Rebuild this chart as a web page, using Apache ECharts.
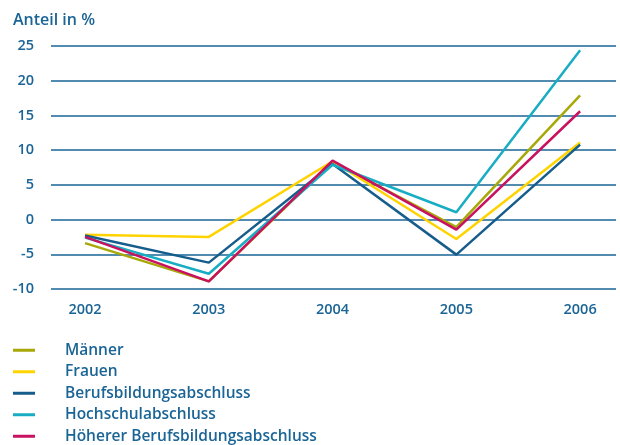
<!DOCTYPE html>
<html>
<head>
<meta charset="utf-8">
<script src="https://cdn.jsdelivr.net/npm/echarts@6/dist/echarts.min.js"></script>
<style>
  html, body { margin: 0; padding: 0; background: #fff; }
  #chart { width: 620px; height: 445px; }
</style>
</head>
<body>
<div id="chart"></div>
<script>
// Daten
const years = [2002, 2003, 2004, 2005, 2006]
const maenner = [-3.4, -8.9, 8.3, -1.1, 17.9]
const frauen = [-2.2, -2.5, 8.4, -2.8, 11.1]
const berufsbildung = [-2.3, -6.2, 8.0, -5.05, 10.8]
const hochschule = [-2.6, -7.8, 7.9, 1.05, 24.4]
const hoehererBeruf = [-2.5, -8.9, 8.5, -1.45, 15.6]

const textColor = '#1a6496'
const fontFamily = '"Open Sans", "Noto Sans", sans-serif'

const seriesDefs = [
  { name: 'Männer', data: maenner, color: '#a9a80a' },
  { name: 'Frauen', data: frauen, color: '#ffd300' },
  { name: 'Berufsbildungsabschluss', data: berufsbildung, color: '#165d8c' },
  { name: 'Hochschulabschluss', data: hochschule, color: '#19adc4' },
  { name: 'Höherer Berufsbildungsabschluss', data: hoehererBeruf, color: '#c8115f' }
]

const chart = echarts.init(document.getElementById('chart'))

const option = {
  animation: false,
  title: {
    text: 'Anteil in %',
    left: 13,
    top: 12,
    padding: 0,
    textStyle: { color: textColor, fontSize: 16, fontWeight: 600, fontFamily: fontFamily }
  },
  legend: {
    orient: 'vertical',
    left: 13,
    top: 342,
    padding: 0,
    height: 110,
    icon: 'rect',
    itemWidth: 22,
    itemHeight: 3,
    itemGap: 5,
    textStyle: {
      color: textColor, fontSize: 15.5, fontWeight: 600, fontFamily: fontFamily,
      lineHeight: 16.5, padding: [0, 0, 0, 25]
    },
    data: seriesDefs.map(s => s.name)
  },
  grid: { left: 51, right: 4, top: 46, bottom: 156 },
  xAxis: {
    type: 'value',
    min: 2001.725,
    max: 2006.29,
    axisLine: { show: false },
    axisTick: { show: false },
    splitLine: { show: false },
    axisLabel: {
      customValues: years,
      formatter: v => String(v),
      margin: 13,
      color: textColor, fontSize: 14.5, fontWeight: 600, fontFamily: fontFamily
    }
  },
  yAxis: {
    type: 'value',
    min: -10,
    max: 25,
    interval: 5,
    axisLine: { show: false },
    axisTick: { show: false },
    splitLine: { lineStyle: { color: '#1a6496', width: 1.5 } },
    axisLabel: {
      margin: 17,
      color: textColor, fontSize: 14.5, fontWeight: 600, fontFamily: fontFamily
    }
  },
  series: seriesDefs.map(s => ({
    name: s.name,
    type: 'line',
    data: s.data.map((v, i) => [years[i], v]),
    symbol: 'none',
    color: s.color,
    lineStyle: { color: s.color, width: 2.5 }
  }))
}

chart.setOption(option)
</script>
</body>
</html>
